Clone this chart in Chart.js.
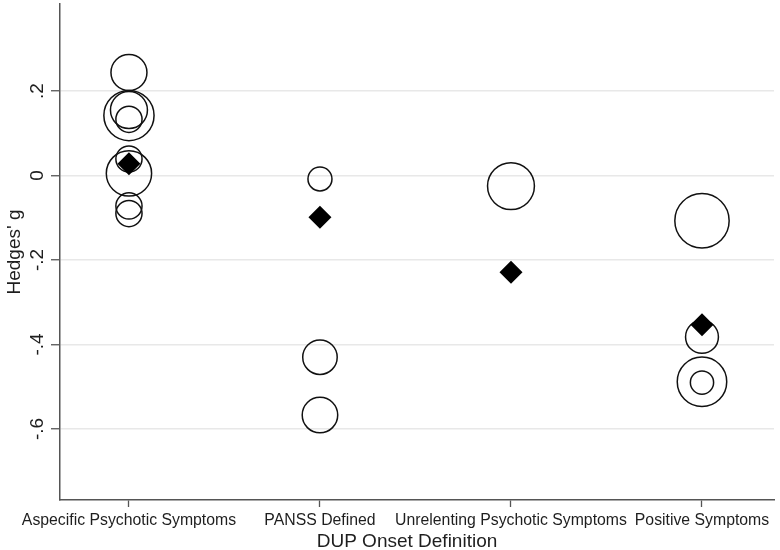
<!DOCTYPE html>
<html>
<head>
<meta charset="utf-8">
<script src="https://cdn.jsdelivr.net/npm/chart.js@4.4.0/dist/chart.umd.min.js"></script>
<style>
  html, body { margin: 0; padding: 0; background: #ffffff; }
  #wrap { width: 780px; height: 550px; }
</style>
</head>
<body>
<div id="wrap"><canvas id="c" width="780" height="550"></canvas></div>
<script>
// ---- data ----
const categories = ["Aspecific Psychotic Symptoms", "PANSS Defined", "Unrelenting Psychotic Symptoms", "Positive Symptoms"];
// individual studies: category index, Hedges' g, study weight
const studyCategory = [0, 0, 0, 0, 0, 0, 0, 0, 1, 1, 1, 2, 3, 3, 3, 3];
const studyEffect   = [0.244, 0.155, 0.142, 0.133, 0.039, 0.005, -0.072, -0.090, -0.008, -0.430, -0.567, -0.025, -0.107, -0.382, -0.488, -0.490];
const studyWeight   = [36, 38, 70, 19, 19, 57, 19, 19, 16, 33, 35, 61, 82, 30, 68, 15];
// pooled effect per category
const pooledEffect  = [0.028, -0.099, -0.229, -0.353];
// y axis ticks
const yTickValues = [0.2, 0, -0.2, -0.4, -0.6];
const yTickLabels = [".2", "0", "-.2", "-.4", "-.6"];
const xTitle = "DUP Onset Definition";
const yTitle = "Hedges' g";

// ---- build library data ----
const studyPoints = studyEffect.map((g, i) => ({ x: studyCategory[i] + 1, y: g }));
const pooledPoints = pooledEffect.map((g, i) => ({ x: i + 1, y: g }));
const radiusFromWeight = w => Math.sqrt(w) * 3;

const FONT = "'Liberation Sans', Arial, Helvetica, sans-serif";
const TEXT = '#1e1e1e';
const AXIS = '#555555';

const textPlugin = {
  id: 'texts',
  afterDraw(chart) {
    const ctx = chart.ctx;
    const ys = chart.scales.y;
    const area = chart.chartArea;
    ctx.save();
    ctx.fillStyle = TEXT;
    // rotated y tick labels
    ctx.font = '19px ' + FONT;
    ctx.textAlign = 'center';
    ctx.textBaseline = 'alphabetic';
    yTickValues.forEach((v, i) => {
      const py = ys.getPixelForValue(v);
      ctx.save();
      ctx.translate(43, py);
      ctx.rotate(-Math.PI / 2);
      ctx.fillText(yTickLabels[i], 0, 0);
      ctx.restore();
    });
    // y title
    ctx.font = '19px ' + FONT;
    ctx.save();
    ctx.translate(20, (area.top + area.bottom) / 2);
    ctx.rotate(-Math.PI / 2);
    ctx.fillText(yTitle, 0, 0);
    ctx.restore();
    // x title
    ctx.fillText(xTitle, 407, 547);
    ctx.restore();
  }
};

const noPad = s => { s.paddingTop = 0; s.paddingBottom = 0; s.paddingLeft = 0; s.paddingRight = 0; };

new Chart(document.getElementById('c'), {
  type: 'scatter',
  data: {
    datasets: [
      {
        label: 'Pooled',
        data: pooledPoints,
        pointStyle: 'rectRot',
        pointRadius: 11.5,
        pointHoverRadius: 11.5,
        backgroundColor: '#000000',
        borderColor: '#000000',
        borderWidth: 0
      },
      {
        label: 'Studies',
        data: studyPoints,
        pointStyle: 'circle',
        pointRadius: ctx => radiusFromWeight(studyWeight[ctx.dataIndex]),
        pointHoverRadius: ctx => radiusFromWeight(studyWeight[ctx.dataIndex]),
        backgroundColor: 'rgba(0,0,0,0)',
        borderColor: '#111111',
        borderWidth: 1.5
      }
    ]
  },
  options: {
    responsive: false,
    devicePixelRatio: 1,
    animation: false,
    layout: { autoPadding: false, padding: { top: 4, right: 6, left: 0, bottom: 0 } },
    plugins: { legend: { display: false }, tooltip: { enabled: false } },
    scales: {
      x: {
        type: 'linear',
        min: 0.639,
        max: 4.377,
        afterBuildTicks: s => { s.ticks = categories.map((c, i) => ({ value: i + 1 })); },
        afterFit: s => { s.height = 50; noPad(s); },
        ticks: {
          callback: v => categories[v - 1],
          autoSkip: false,
          maxRotation: 0,
          minRotation: 0,
          padding: 4,
          color: TEXT,
          font: { family: FONT, size: 15.8 }
        },
        grid: { drawOnChartArea: false, drawTicks: true, tickLength: 7, tickColor: AXIS, tickWidth: 1.3 },
        border: { display: true, color: AXIS, width: 1.5 }
      },
      y: {
        type: 'linear',
        min: -0.768,
        max: 0.406,
        afterBuildTicks: s => { s.ticks = yTickValues.map(v => ({ value: v })); },
        afterFit: s => { s.width = 60; noPad(s); },
        ticks: { color: 'rgba(0,0,0,0)', font: { family: FONT, size: 12 }, padding: 2 },
        grid: { color: '#e8e8e8', lineWidth: 1.5, drawTicks: true, tickLength: 9, tickColor: AXIS, tickWidth: 1.3 },
        border: { display: true, color: AXIS, width: 1.5 }
      }
    }
  },
  plugins: [textPlugin]
});
</script>
</body>
</html>
